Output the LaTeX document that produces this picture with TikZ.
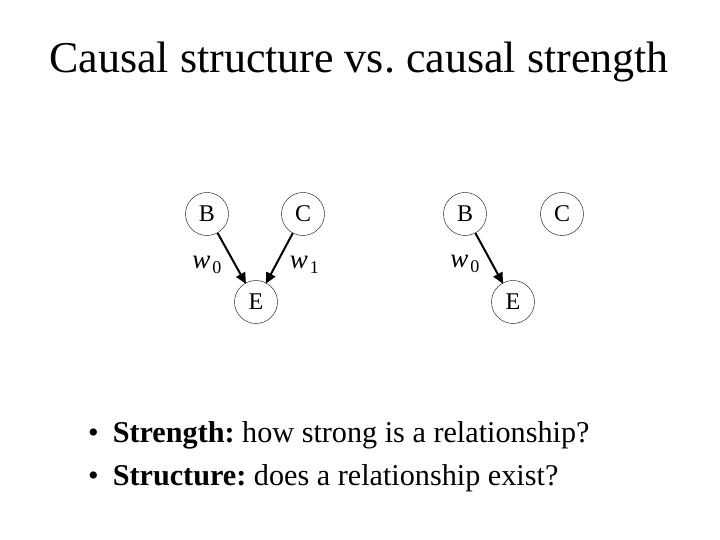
\documentclass[tikz,border=0pt]{standalone}
\usepackage{fontspec}
\setmainfont{Liberation Serif}
\usetikzlibrary{arrows.meta, positioning}

\newcommand{\wlab}[1]{\textit{w}\kern2pt\raisebox{-0.4ex}{\fontsize{18}{18}\selectfont #1}}

\frenchspacing
\begin{document}
\begin{tikzpicture}[
        x=1pt, y=1pt,
        var/.style={
            draw,
            circle,
            minimum size=43pt,
            inner sep=0pt,
            font=\fontsize{24}{24}\selectfont
        },
        arr/.style={
            -{Triangle[length=11pt, width=10pt]},
            line width=2pt,
            shorten >=-1pt
        },
        wgt/.style={font=\fontsize{27}{27}\selectfont, inner sep=0pt},
        node distance=10pt,
        on grid
    ]
        \useasboundingbox (0,0) rectangle (720,540);

        \node[font=\fontsize{44}{44}\selectfont, anchor=base] (title) at (359,467) {Causal structure vs.\ causal strength};

        % strength: both causes
        \node[var] (b1) at (207,326) {B};
        \node[var, right=96pt of b1] (c1) {C};
        \node[var, below right=88pt and 49pt of b1] (e1) {E};

        \draw[arr] (b1) -- (e1) node[wgt, pos=0.64, left=13pt] {\wlab{0}};
        \draw[arr] (c1) -- (e1) node[wgt, pos=0.64, right=13pt] {\wlab{1}};

        % structure: only one cause
        \node[var] (b2) at (465,326) {B};
        \node[var, right=97pt of b2] (c2) {C};
        \node[var, below right=88pt and 48pt of b2] (e2) {E};

        \draw[arr] (b2) -- (e2) node[wgt, pos=0.62, left=12pt] {\wlab{0}};

        % bullets
        \node[font=\fontsize{30.2}{30.2}\selectfont, anchor=base west, inner sep=0pt] (s1) at (88,97) {\textbullet\hspace{14pt}\textbf{Strength:} how strong is a relationship?};
        \node[font=\fontsize{30.2}{30.2}\selectfont, anchor=base west, inner sep=0pt] (s2) at (88,54) {\textbullet\hspace{14pt}\textbf{Structure:} does a relationship exist?};

    \end{tikzpicture}
\end{document}
